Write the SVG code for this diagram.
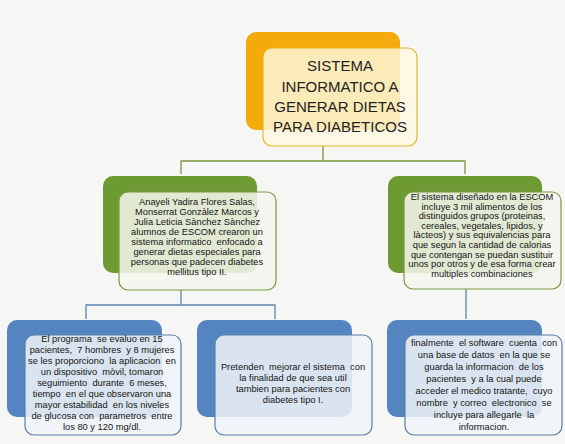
<svg xmlns="http://www.w3.org/2000/svg" width="565" height="444" viewBox="0 0 565 444">
<style>
.bg{fill:#f6f6f4}
.back-o{fill:#f5a90a}
.back-g{fill:#6d9a32}
.back-b{fill:#5585c0}
.front-o{fill:#fff8e0;fill-opacity:0.82;stroke:#e2b72a;stroke-width:1.2}
.front-g{fill:#f4f6ee;fill-opacity:0.86;stroke:#7a9a40;stroke-width:1.2}
.front-b{fill:#f0f3f8;fill-opacity:0.86;stroke:#5a7fa8;stroke-width:1.2}
.title{font-family:"Liberation Sans",Arial,sans-serif;font-size:15px;fill:#222;text-anchor:middle}
.body{font-family:"Liberation Sans",Arial,sans-serif;font-size:9.3px;fill:#141414;text-anchor:middle;white-space:pre}
.cg{fill:none;stroke:#77973a;stroke-width:1.3}
.cb{fill:none;stroke:#5e86ad;stroke-width:1.3}
</style>
<rect class="bg" x="0" y="0" width="565" height="444"/>
<g id="connectors">
<path class="cg" d="M323 146V161M181 174V161H465V174"/>
<path class="cb" d="M181 290V305M86 319V305H275V319"/>
<path class="cb" d="M466 289V319"/>
</g>
<g id="node-title">
<rect class="back-o" x="246" y="32" width="154" height="98" rx="10"/>
<rect class="front-o" x="263" y="48" width="154" height="98" rx="9"/>
<text class="title" x="340" y="71">SISTEMA</text>
<text class="title" x="340" y="92">INFORMATICO A</text>
<text class="title" x="340" y="112">GENERAR DIETAS</text>
<text class="title" x="340" y="132">PARA DIABETICOS</text>
</g>
<g id="node-alumnos">
<rect class="back-g" x="103" y="176" width="154" height="97" rx="10"/>
<rect class="front-g" x="119" y="192" width="157" height="98" rx="9"/>
<text class="body" x="197" y="205">Anayeli Yadira Flores Salas,</text>
<text class="body" x="197" y="215">Monserrat Gonzàlez Marcos y</text>
<text class="body" x="197" y="225">Julia Leticia Sànchez Sànchez</text>
<text class="body" x="197" y="235">alumnos de ESCOM crearon un</text>
<text class="body" x="197" y="245">sistema informatico  enfocado a</text>
<text class="body" x="197" y="255">generar dietas especiales para</text>
<text class="body" x="197" y="265">personas que padecen diabetes</text>
<text class="body" x="197" y="275">mellitus tipo II.</text>
</g>
<g id="node-sistema">
<rect class="back-g" x="388" y="176" width="154" height="97" rx="10"/>
<rect class="front-g" x="404" y="192" width="157" height="97" rx="9"/>
<text class="body" x="482" y="200">El sistema diseñado en la ESCOM</text>
<text class="body" x="482" y="209.6">incluye 3 mil alimentos de los</text>
<text class="body" x="482" y="219.2">distinguidos grupos (proteinas,</text>
<text class="body" x="482" y="228.8">cereales, vegetales, lipidos, y</text>
<text class="body" x="482" y="238.4">làcteos) y sus equivalencias para</text>
<text class="body" x="482" y="248">que segun la cantidad de calorias</text>
<text class="body" x="482" y="257.6">que contengan se puedan sustituir</text>
<text class="body" x="482" y="267.2">unos por otros y de esa forma crear</text>
<text class="body" x="482" y="276.8">multiples combinaciones</text>
</g>
<g id="node-evaluacion">
<rect class="back-b" x="7" y="320" width="155" height="97" rx="10"/>
<rect class="front-b" x="25" y="335" width="156" height="100" rx="9"/>
<text class="body" x="102" y="342">El programa  se evaluo en 15</text>
<text class="body" x="102" y="353">pacientes,  7 hombres  y 8 mujeres</text>
<text class="body" x="102" y="364">se les proporciono  la aplicacion  en</text>
<text class="body" x="102" y="375">un dispositivo  mòvil, tomaron</text>
<text class="body" x="102" y="386">seguimiento  durante  6 meses,</text>
<text class="body" x="102" y="397">tiempo  en el que observaron una</text>
<text class="body" x="102" y="408">mayor estabilidad  en los niveles</text>
<text class="body" x="102" y="419">de glucosa con  parametros  entre</text>
<text class="body" x="102" y="430">los 80 y 120 mg/dl.</text>
</g>
<g id="node-mejora">
<rect class="back-b" x="197" y="320" width="155" height="97" rx="10"/>
<rect class="front-b" x="215" y="335" width="157" height="100" rx="9"/>
<text class="body" x="293" y="370">Pretenden  mejorar el sistema  con</text>
<text class="body" x="293" y="381">la finalidad de que sea util</text>
<text class="body" x="293" y="392">tambien para pacientes con</text>
<text class="body" x="293" y="403">diabetes tipo I.</text>
</g>
<g id="node-software">
<rect class="back-b" x="387" y="320" width="155" height="97" rx="10"/>
<rect class="front-b" x="405" y="335" width="157" height="100" rx="9"/>
<text class="body" x="484" y="346">finalmente  el software  cuenta  con</text>
<text class="body" x="484" y="358">una base de datos  en la que se</text>
<text class="body" x="484" y="370">guarda la informacion  de los</text>
<text class="body" x="484" y="382">pacientes  y a la cual puede</text>
<text class="body" x="484" y="394">acceder el medico tratante,  cuyo</text>
<text class="body" x="484" y="406">nombre  y correo  electronico  se</text>
<text class="body" x="484" y="418">incluye para allegarle  la</text>
<text class="body" x="484" y="430">informacion.</text>
</g>
</svg>
